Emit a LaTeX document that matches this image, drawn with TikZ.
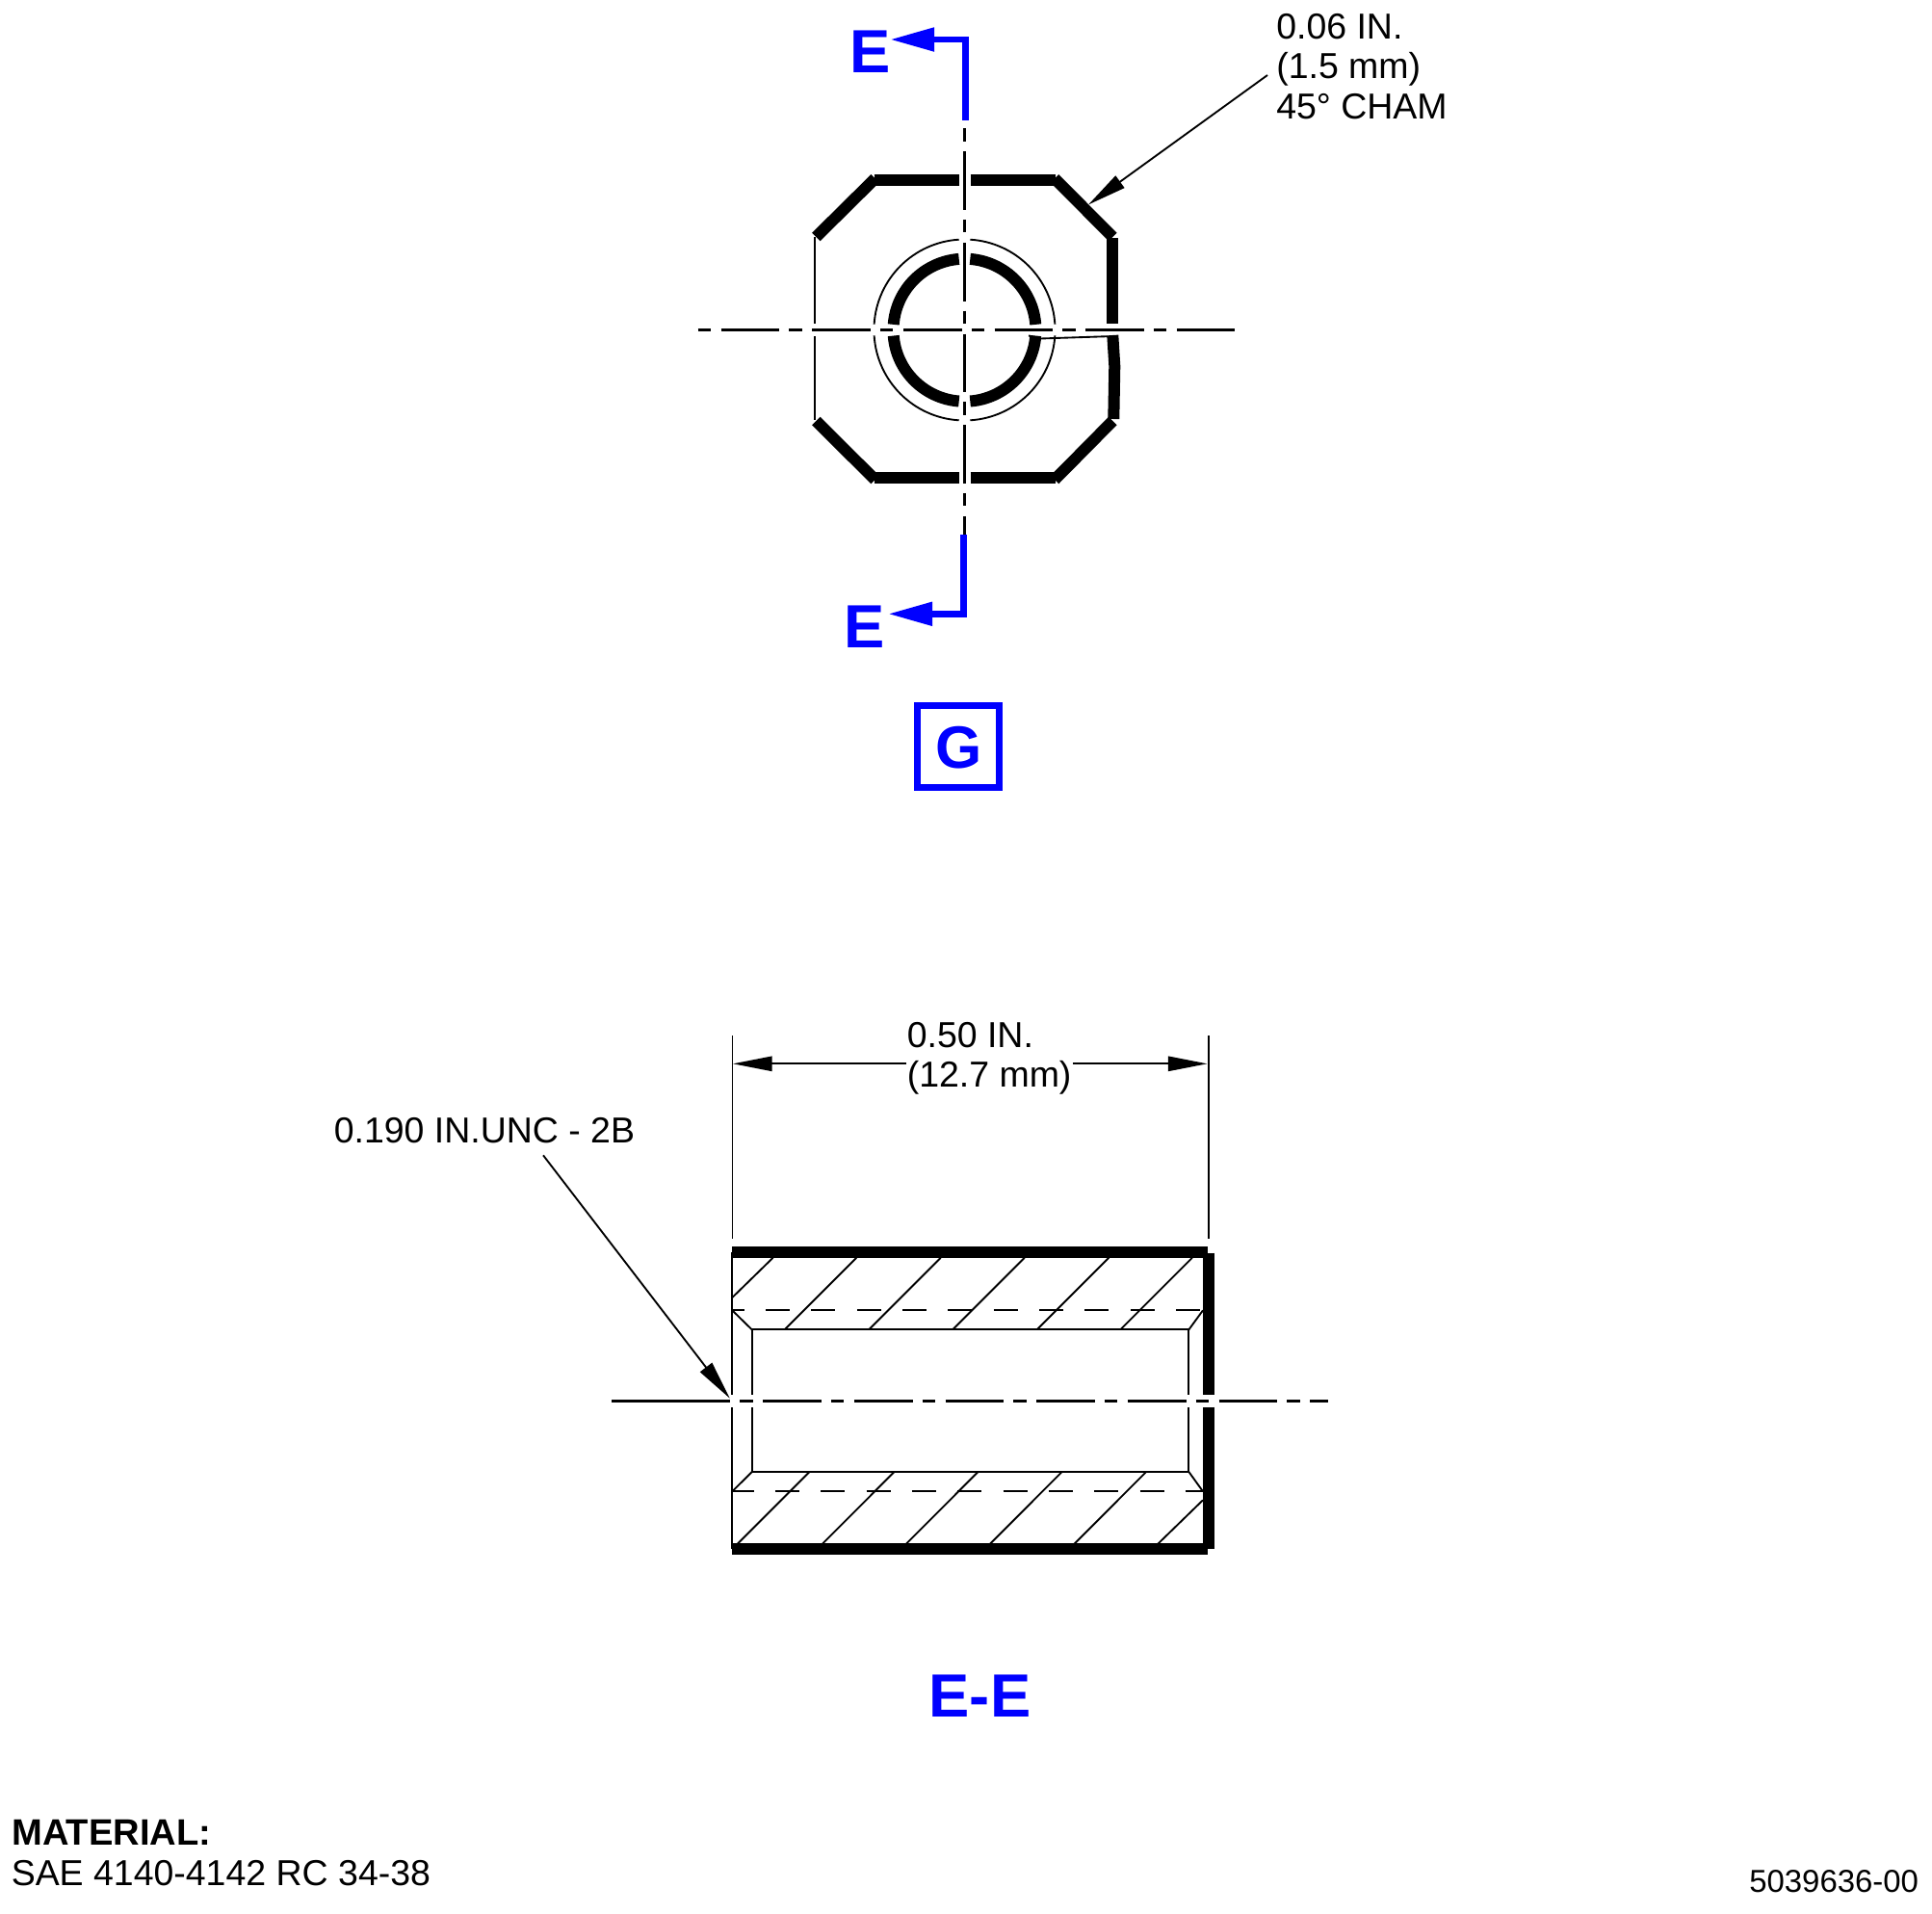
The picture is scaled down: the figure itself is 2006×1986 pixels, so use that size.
\documentclass[tikz,border=0pt]{standalone}
\usepackage{fontspec}
\setmainfont{Liberation Sans}
\usetikzlibrary{arrows.meta}
\definecolor{secblue}{RGB}{0,0,255}
\tikzset{
  px/.style={x=0.75pt,y=-0.75pt},
  thickline/.style={line width=9pt,line cap=butt},
  thinline/.style={line width=1.4pt,line cap=butt},
  centerline/.style={line width=2.2pt,line cap=butt,dash pattern=on 45.6pt off 7.4pt on 10pt off 8pt},
  hiddenline/.style={line width=1.6pt,dash pattern=on 18.7pt off 16.8pt},
  dimarrow/.style={-{Triangle[length=30.5pt,width=11.5pt]},line width=1.4pt},
  secline/.style={line width=5.2pt,secblue,line join=miter,line cap=butt},
  secarrow/.style={-{Triangle[length=34.5pt,width=17.5pt,color=secblue]}},
  note/.style={font=\fontsize{28.1}{31.2}\selectfont,inner sep=0pt,anchor=base west,align=left},
  seclabel/.style={font=\fontsize{47.5}{50}\selectfont\bfseries,text=secblue,inner sep=0pt,anchor=base west},
}
\begin{document}
\begin{tikzpicture}[px]
\useasboundingbox (0,0) rectangle (2006,1986);
\fill[white] (0,0) rectangle (2006,1986);

% ---------- top view: octagon ----------
\draw[thickline] (907.6,187.3) -- (995.5,187.3);
\draw[thickline] (1007.5,187.3) -- (1096,187.3);
\draw[thickline] (907.6,496) -- (995.5,496);
\draw[thickline] (1007.5,496) -- (1096,496);
\draw[thickline] (908.6,185.3) -- (847.3,246);
\draw[thickline] (1095,185.3) -- (1155.3,246);
\draw[thickline] (847.3,437) -- (908.6,498);
\draw[thickline] (1155.3,437) -- (1095,498);
\draw[thickline] (1155.3,247.3) -- (1155.3,336);
\draw[thickline] (1155.3,348) -- (1157.3,380) -- (1156.3,435);
\draw[thinline] (846,246) -- (846,336) (846,349) -- (846,436);

% ---------- top view: circles ----------
\draw[thinline] (995.7,248.7) arc[start angle=-93.5,end angle=-176.4,radius=94];
\draw[thinline] (1007.3,248.7) arc[start angle=-86.5,end angle=-3.6,radius=94];
\draw[thinline] (995.7,436.3) arc[start angle=93.5,end angle=176.4,radius=94];
\draw[thinline] (1007.3,436.3) arc[start angle=86.5,end angle=3.6,radius=94];
\draw[thickline] (995.7,268.9) arc[start angle=-94.5,end angle=-175.5,radius=74];
\draw[thickline] (1007.3,268.9) arc[start angle=-85.5,end angle=-4.5,radius=74];
\draw[thickline] (995.7,416.5) arc[start angle=94.5,end angle=175.5,radius=74];
\draw[thickline] (1007.3,416.5) arc[start angle=85.5,end angle=4.5,radius=74];
\draw[thinline] (1068,348.5) -- (1080,351.5) -- (1150,349.2);

% ---------- top view: centre lines ----------
\draw[centerline,dash phase=53pt] (1001.3,133.3) -- (1001.3,555);
\draw[centerline,dash phase=53pt] (724.6,342.7) -- (1282,342.7);

% ---------- section arrows ----------
\coordinate (sect1) at (1002.3,124.6);
\coordinate (sect2) at (1002.3,41);
\coordinate (sect3) at (924,41);
\draw[secline,secarrow] (sect1) -- (sect2) -- (sect3);
\coordinate (secb1) at (1000.7,554.7);
\coordinate (secb2) at (1000.7,637.3);
\coordinate (secb3) at (922,637.3);
\draw[secline,secarrow] (secb1) -- (secb2) -- (secb3);
\node[seclabel] (labE1) at (882,75.8) {E};
\node[seclabel] (labE2) at (876,672.7) {E};

% ---------- view letter ----------
\draw[line width=5pt,secblue] (952.7,732.3) rectangle (1037.3,817.3);
\node[font=\fontsize{46.5}{50}\selectfont\bfseries,text=secblue,inner sep=0pt,anchor=base] (labG) at (995.5,797.5) {G};

% ---------- chamfer note ----------
\node[note] (cham) at (1325,123.3) {0.06 IN.\\(1.5 mm)\\45° CHAM};
\coordinate (chamstart) at (1316,78);
\coordinate (chamtip) at (1130,212.5);
\draw[dimarrow] (chamstart) -- (chamtip);

% ---------- section view ----------
\draw[thinline] (760.3,1300) -- (760.3,1448) (760.3,1461) -- (760.3,1608);
\draw[thinline] (780.7,1380.3) -- (780.7,1448) (780.7,1461) -- (780.7,1528);
\draw[thinline] (1234.4,1380.3) -- (1234.4,1448) (1234.4,1461) -- (1234.4,1528);
\draw[thinline] (780.7,1380.3) -- (1234.4,1380.3) (780.7,1528) -- (1234.4,1528);
\draw[thinline] (760.3,1360.3) -- (780.7,1380.3) (1249,1360.3) -- (1234.4,1380.3);
\draw[thinline] (760.3,1548.3) -- (780.7,1528) (1249,1548.3) -- (1234.4,1528);
\draw[hiddenline,dash phase=9.4pt] (760.3,1360.3) -- (1249,1360.3);
\draw[hiddenline,dash phase=2pt] (760.3,1548.3) -- (1249,1548.3);
% hatching
\draw[thinline] (802.6,1305.7) -- (760.3,1347);
\foreach \xx in {889.2,976.7,1063.8,1151.3,1237.9}
  \draw[thinline] (\xx,1305.7) -- ++(-74.6,74.6);
\foreach \xx in {840.4,928.5,1015.5,1102.6,1190.1}
  \draw[thinline] (\xx,1528) -- ++(-74.6,74.7);
\draw[thinline] (1249,1557.3) -- (1202,1603);
% heavy outline
\draw[thickline] (760.3,1300) -- (1254.3,1300);
\draw[thickline] (760.3,1608.4) -- (1254.3,1608.4);
\draw[thickline] (1254.8,1300.7) -- (1254.8,1448.3);
\draw[thickline] (1254.8,1460.7) -- (1254.8,1608);
% centre line
\draw[line width=2.2pt] (635,1454.3) -- (757.8,1454.3);
\draw[centerline,dash phase=53pt] (768.3,1454.3) -- (1378.7,1454.3);

% ---------- dimensions ----------
\coordinate (ext1a) at (760.5,1075.3);
\coordinate (ext1b) at (760.5,1286);
\coordinate (ext2a) at (1254.7,1075.3);
\coordinate (ext2b) at (1254.7,1286);
\draw[thinline] (ext1a) -- (ext1b);
\draw[thinline] (ext2a) -- (ext2b);
\node[note] (dim) at (941.5,1128.6) {0.50 IN.\\(12.7 mm)};
\coordinate (dimL) at (941,1104.3);
\coordinate (dimR) at (1113.8,1104.3);
\coordinate (dimLtip) at (761,1104.3);
\coordinate (dimRtip) at (1253.5,1104.3);
\draw[dimarrow] (dimL) -- (dimLtip);
\draw[dimarrow] (dimR) -- (dimRtip);
\node[note] (thread) at (346.5,1186.7) {0.190 IN.UNC - 2B};
\coordinate (thrstart) at (564,1199.3);
\coordinate (thrtip) at (757.8,1451.7);
\draw[dimarrow] (thrstart) -- (thrtip);

% ---------- labels ----------
\node[font=\fontsize{47.5}{50}\selectfont\bfseries,text=secblue,inner sep=0pt,anchor=base] (labEE) at (1017.5,1782.7) {E-E};
\node[note,font=\fontsize{28.6}{31}\selectfont\bfseries] (mat) at (12,1915.5) {MATERIAL:};
\node[note] (sae) at (11.5,1957.5) {SAE 4140-4142 RC 34-38};
\node[note,font=\fontsize{24.7}{28}\selectfont] (dwg) at (1816,1964) {5039636-00};
\end{tikzpicture}
\end{document}
